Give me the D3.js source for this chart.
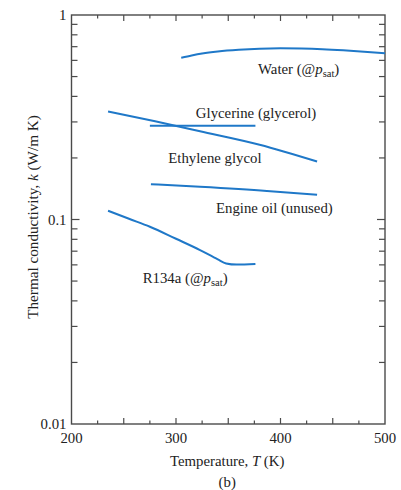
<!DOCTYPE html>
<html>
<head>
<meta charset="utf-8">
<script src="https://cdn.jsdelivr.net/npm/d3@7"></script>
<style>
  body { margin: 0; background: #fff; }
  text { font-family: "Liberation Serif", "Times New Roman", serif; fill: #222; }
</style>
</head>
<body>
<script>
// values
var waterT = [305, 315, 325, 340, 360, 380, 400, 420, 440, 460, 480, 500],
    waterK = [0.618, 0.634, 0.648, 0.663, 0.676, 0.684, 0.687, 0.685, 0.680, 0.672, 0.662, 0.650];
var glycerinT = [275, 376],
    glycerinK = [0.287, 0.287];
var glycolT = [235, 280, 323, 380, 435],
    glycolK = [0.337, 0.302, 0.270, 0.232, 0.192];
var oilT = [276, 323, 387, 435],
    oilK = [0.1487, 0.1445, 0.138, 0.132];
var r134T = [235, 255, 275, 300, 323, 340, 348, 358, 376],
    r134K = [0.1104, 0.1008, 0.0922, 0.0805, 0.0709, 0.0638, 0.0610, 0.0602, 0.0606];

var xTicks = [200, 300, 400, 500],
    yTicks = [0.01, 0.1, 1];

// label anchors in data units (T, k)
var labels = [
  {name: "Water (@", sub: true, T: 378.5, k: 0.515},
  {name: "Glycerine (glycerol)", T: 319, k: 0.313},
  {name: "Ethylene glycol", T: 292.6, k: 0.188},
  {name: "Engine oil (unused)", T: 338.3, k: 0.1076},
  {name: "R134a (@", sub: true, T: 268.1, k: 0.0489}
];

var width = 401, height = 490;
var margin = {left: 71.5, top: 15, right: 16, bottom: 66};
var w = width - margin.left - margin.right,
    h = height - margin.top - margin.bottom;
var fs = '14.8px';

var x = d3.scaleLinear().domain([200, 500]).range([0, w]);
var y = d3.scaleLog().domain([0.01, 1]).range([h, 0]);

var svg = d3.select('body').append('svg').attr('width', width).attr('height', height);
var g = svg.append('g').attr('transform', 'translate(' + margin.left + ',' + margin.top + ')');

var axisColor = '#4a4a4a';
var xMinor = d3.range(200, 501, 25);
var yMinor = [];
[0.01, 0.1].forEach(function(d){ for (var i = 2; i <= 9; i++) yMinor.push(d * i); });

// ticks, pointing inward on all four sides
xMinor.forEach(function(t){
  var len = (t % 50 === 0) ? 6 : 3.5;
  if (t === 200 || t === 500) return;
  g.append('line').attr('x1', x(t)).attr('x2', x(t)).attr('y1', h).attr('y2', h - len)
    .attr('stroke', axisColor).attr('stroke-width', 1.2);
  g.append('line').attr('x1', x(t)).attr('x2', x(t)).attr('y1', 0).attr('y2', len)
    .attr('stroke', axisColor).attr('stroke-width', 1.2);
});
yMinor.concat([0.1]).forEach(function(v){
  var len = v === 0.1 ? 8 : 6;
  g.append('line').attr('x1', 0).attr('x2', len).attr('y1', y(v)).attr('y2', y(v))
    .attr('stroke', axisColor).attr('stroke-width', 1.2);
  g.append('line').attr('x1', w).attr('x2', w - len).attr('y1', y(v)).attr('y2', y(v))
    .attr('stroke', axisColor).attr('stroke-width', 1.2);
});

// frame
g.append('rect').attr('width', w).attr('height', h)
  .attr('fill', 'none').attr('stroke', axisColor).attr('stroke-width', 1.4);

// tick labels
g.selectAll('.xl').data(xTicks).enter().append('text')
  .attr('x', function(d){ return x(d); }).attr('y', h + 19)
  .attr('text-anchor', 'middle').attr('font-size', fs)
  .text(function(d){ return d; });
g.selectAll('.yl').data(yTicks).enter().append('text')
  .attr('x', -5).attr('y', function(d){ return y(d) + 5; })
  .attr('text-anchor', 'end').attr('font-size', fs)
  .text(function(d){ return d; });

// axis titles
var xt = g.append('text').attr('x', x(349)).attr('y', h + 42)
  .attr('text-anchor', 'middle').attr('font-size', fs);
xt.append('tspan').text('Temperature, ');
xt.append('tspan').attr('font-style', 'italic').text('T');
xt.append('tspan').text(' (K)');
g.append('text').attr('x', x(349)).attr('y', h + 63)
  .attr('text-anchor', 'middle').attr('font-size', fs).text('(b)');

var yt = svg.append('text').attr('transform', 'translate(38,217) rotate(-90)')
  .attr('text-anchor', 'middle').attr('font-size', '15.2px');
yt.append('tspan').text('Thermal conductivity, ');
yt.append('tspan').attr('font-style', 'italic').text('k');
yt.append('tspan').text(' (W/m K)');

// curves
var line = d3.line()
  .x(function(d){ return x(d[0]); })
  .y(function(d){ return y(d[1]); })
  .curve(d3.curveMonotoneX);

[[waterT, waterK], [glycerinT, glycerinK], [glycolT, glycolK], [oilT, oilK], [r134T, r134K]]
  .forEach(function(s){
    g.append('path').attr('d', line(d3.zip(s[0], s[1])))
      .attr('fill', 'none').attr('stroke', '#1f78c8').attr('stroke-width', 2);
  });

// curve labels
labels.forEach(function(l){
  var t = g.append('text').attr('x', x(l.T)).attr('y', y(l.k)).attr('font-size', fs);
  t.append('tspan').text(l.name);
  if (l.sub) {
    t.append('tspan').attr('font-style', 'italic').text('p');
    t.append('tspan').attr('font-size', '10.5px').attr('dy', 3).text('sat');
    t.append('tspan').attr('dy', -3).text(')');
  }
});
</script>
</body>
</html>
